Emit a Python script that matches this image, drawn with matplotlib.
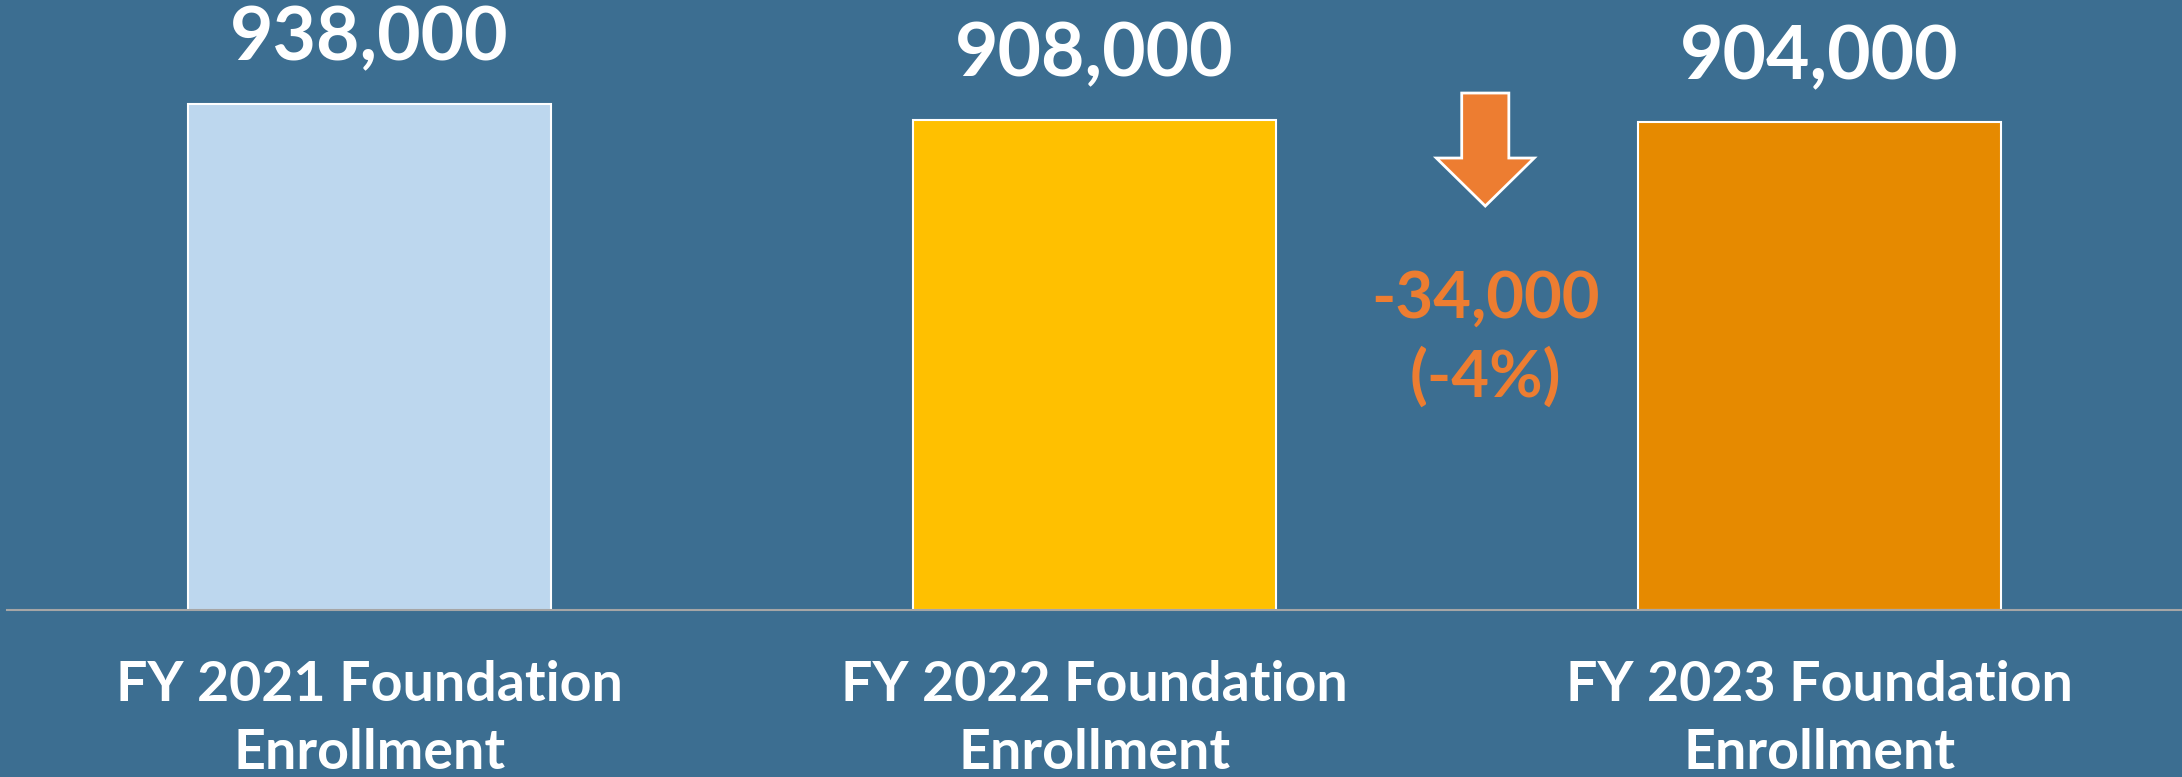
import matplotlib
matplotlib.use("Agg")
import matplotlib.pyplot as plt
from matplotlib.patches import FancyArrow

categories = ["FY 2021 Foundation\nEnrollment", "FY 2022 Foundation\nEnrollment", "FY 2023 Foundation\nEnrollment"]
values = [938000, 908000, 904000]
bar_colors = ["#BDD7EE", "#FFC000", "#E68A00"]

BG = "#3C6E91"
ORANGE = "#ED7D31"
FONT = "Lato"
W = "bold"

fig = plt.figure(figsize=(21.82, 7.77), dpi=100, facecolor=BG)
ax = fig.add_axes([7/2182, (777-610)/777, (2182-7)/2182, 610/777])
ax.set_facecolor(BG)

x = list(range(len(values)))
bars = ax.bar(x, values, width=0.5, color=bar_colors, edgecolor="white", linewidth=1.5, zorder=2)
ax.set_xlim(-0.5, 2.5)
ax.set_ylim(0, 1131000)

for b, v in zip(bars, values):
    ax.annotate(f"{v:,}", (b.get_x() + b.get_width()/2, v), xytext=(0, 22),
                textcoords="offset points", ha="center", va="bottom",
                fontsize=54, fontweight=W, color="white", family=FONT)

for s in ["top", "left", "right"]:
    ax.spines[s].set_visible(False)
ax.spines["bottom"].set_color("#A6A6A6")
ax.spines["bottom"].set_linewidth(1.5)
ax.set_yticks([])
ax.set_xticks(x)
ax.set_xticklabels(categories, fontsize=40, fontweight=W, color="white",
                   family=FONT, linespacing=1.45, va="top")
ax.tick_params(axis="x", length=0, pad=36)

# change annotation
diff = values[-1] - values[0]
pct = round(diff / values[0] * 100)
ax_x = 1.539
arrow = FancyArrow(ax_x, 958500, 0, -209500, width=0.065, head_width=0.135,
                   head_length=89000, length_includes_head=True,
                   facecolor=ORANGE, edgecolor="white", linewidth=2, zorder=3)
ax.add_patch(arrow)
ax.text(ax_x, 576000, f"{diff:,}", ha="center", va="center",
        fontsize=47, fontweight=W, color=ORANGE, family=FONT)
ax.text(ax_x, 432000, f"({pct}%)", ha="center", va="center",
        fontsize=47, fontweight=W, color=ORANGE, family=FONT)

fig.savefig("out.png", dpi=100, facecolor=BG)
